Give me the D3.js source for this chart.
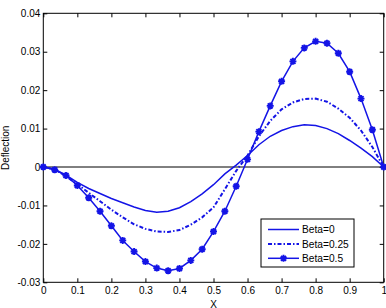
<!DOCTYPE html>
<html>
<head>
<meta charset="utf-8">
<script src="https://cdn.jsdelivr.net/npm/d3@7"></script>
<style>
  body { margin: 0; background: #fff; }
  svg { font-family: "Liberation Sans", Arial, sans-serif; }
  .tick text { font-size: 10px; fill: #000; }
  .domain { display: none; }
</style>
</head>
<body>
<div id="chart"></div>
<script>
// x = i/30, i = 0..30
const xs = d3.range(31).map(i => i / 30);

const beta0 = [0, -0.0006, -0.0021, -0.0040, -0.0056, -0.0069, -0.0082, -0.0093, -0.0104, -0.0113, -0.0118,
  -0.0115, -0.0106, -0.0090, -0.0070, -0.0046, -0.0018, 0.0005, 0.0030, 0.0058, 0.0080,
  0.0095, 0.0105, 0.0110, 0.0108, 0.0100, 0.0087, 0.0069, 0.0049, 0.0027, 0];

const beta025 = [0, -0.0006, -0.0024, -0.0045, -0.0067, -0.0089, -0.0111, -0.0131, -0.0149, -0.0161, -0.0168,
  -0.0169, -0.0164, -0.0150, -0.0131, -0.0105, -0.0058, -0.0010, 0.0030, 0.0080, 0.0120,
  0.0150, 0.0168, 0.0177, 0.0178, 0.0170, 0.0152, 0.0128, 0.0095, 0.0052, 0];

const beta05 = [0, -0.0007, -0.0022, -0.0048, -0.0080, -0.0115, -0.0153, -0.0191, -0.0220, -0.0246, -0.0263,
  -0.0270, -0.0264, -0.0243, -0.0214, -0.0168, -0.0115, -0.0050, 0.0020, 0.0092, 0.0159,
  0.0223, 0.0275, 0.0310, 0.0327, 0.0322, 0.0296, 0.0248, 0.0178, 0.0097, 0];

const xTicks = [0, 0.1, 0.2, 0.3, 0.4, 0.5, 0.6, 0.7, 0.8, 0.9, 1];
const xTickLabels = ['0', '0.1', '0.2', '0.3', '0.4', '0.5', '0.6', '0.7', '0.8', '0.9', '1'];
const yTicks = [-0.03, -0.02, -0.01, 0, 0.01, 0.02, 0.03, 0.04];
const yTickLabels = ['-0.03', '-0.02', '-0.01', '0', '0.01', '0.02', '0.03', '0.04'];

const seriesNames = ['Beta=0', 'Beta=0.25', 'Beta=0.5'];

const width = 386, height = 308;
const margin = {top: 13.3, right: 2.3, bottom: 25.7, left: 43.3};
const blue = '#1414e6';

const svg = d3.select('#chart').append('svg')
  .attr('width', width)
  .attr('height', height);

const x = d3.scaleLinear().domain([0, 1]).range([margin.left, width - margin.right]);
const y = d3.scaleLinear().domain([-0.03, 0.04]).range([height - margin.bottom, margin.top]);

// axes, ticks pointing inward
svg.append('g')
  .attr('transform', `translate(0,${y(-0.03)})`)
  .call(d3.axisBottom(x).tickValues(xTicks).tickSize(-4).tickPadding(5)
    .tickFormat((d, i) => xTickLabels[i]));

svg.append('g')
  .attr('transform', `translate(0,${y(0.04)})`)
  .call(d3.axisTop(x).tickValues(xTicks).tickSize(-4).tickFormat(''));

svg.append('g')
  .attr('transform', `translate(${x(0)},0)`)
  .call(d3.axisLeft(y).tickValues(yTicks).tickSize(-4).tickPadding(3)
    .tickFormat((d, i) => yTickLabels[i]));

svg.append('g')
  .attr('transform', `translate(${x(1)},0)`)
  .call(d3.axisRight(y).tickValues(yTicks).tickSize(-4).tickFormat(''));

svg.selectAll('.tick line').attr('stroke', '#000');

// frame
svg.append('rect')
  .attr('x', x(0)).attr('y', y(0.04))
  .attr('width', x(1) - x(0)).attr('height', y(-0.03) - y(0.04))
  .attr('fill', 'none').attr('stroke', '#000').attr('stroke-width', 1);

// zero line
svg.append('line')
  .attr('x1', x(0)).attr('x2', x(1))
  .attr('y1', y(0)).attr('y2', y(0))
  .attr('stroke', '#000').attr('stroke-width', 1);

const line = d3.line()
  .x((d, i) => x(xs[i]))
  .y(d => y(d));

svg.append('path')
  .datum(beta0)
  .attr('d', line)
  .attr('fill', 'none').attr('stroke', blue).attr('stroke-width', 1.5);

svg.append('path')
  .datum(beta025)
  .attr('d', line)
  .attr('fill', 'none').attr('stroke', blue).attr('stroke-width', 2)
  .attr('stroke-dasharray', '4,2,1.5,2');

svg.append('path')
  .datum(beta05)
  .attr('d', line)
  .attr('fill', 'none').attr('stroke', blue).attr('stroke-width', 1.5);

// asterisk marker
const star = 'M-3.5,0L3.5,0M0,-3.5L0,3.5M-2.5,-2.5L2.5,2.5M-2.5,2.5L2.5,-2.5';

svg.append('g').selectAll('path')
  .data(beta05)
  .enter().append('path')
  .attr('d', star)
  .attr('transform', (d, i) => `translate(${x(xs[i])},${y(d)})`)
  .attr('stroke', blue).attr('stroke-width', 1.9).attr('fill', 'none');

// axis labels
svg.append('text')
  .attr('x', (x(0) + x(1)) / 2).attr('y', 307.5)
  .attr('text-anchor', 'middle')
  .style('font-size', '10px')
  .text('X');

svg.append('text')
  .attr('transform', `translate(9,${(y(0.04) + y(-0.03)) / 2}) rotate(-90)`)
  .attr('text-anchor', 'middle')
  .style('font-size', '10px')
  .text('Deflection');

// legend
const legend = svg.append('g').attr('transform', 'translate(261,219)');
legend.append('rect')
  .attr('width', 93).attr('height', 48)
  .attr('fill', '#fff').attr('stroke', '#000').attr('stroke-width', 1);

const rows = legend.selectAll('.row')
  .data(seriesNames)
  .enter().append('g')
  .attr('transform', (d, i) => `translate(0,${10.5 + i * 14.4})`);

rows.append('line')
  .attr('x1', 7).attr('x2', 38).attr('y1', 0).attr('y2', 0)
  .attr('stroke', blue)
  .attr('stroke-width', (d, i) => i === 1 ? 2 : 1.5)
  .attr('stroke-dasharray', (d, i) => i === 1 ? '4,2,1.5,2' : null);

rows.filter((d, i) => i === 2).append('path')
  .attr('d', star)
  .attr('transform', 'translate(22.5,0)')
  .attr('stroke', blue).attr('stroke-width', 1.9).attr('fill', 'none');

rows.append('text')
  .attr('x', 41).attr('y', 3.8)
  .style('font-size', '10.2px')
  .text(d => d);
</script>
</body>
</html>
